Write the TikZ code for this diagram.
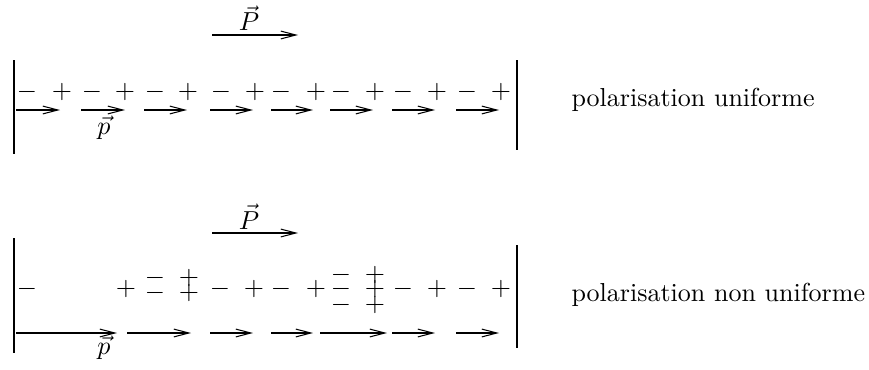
\documentclass[tikz,border=0pt]{standalone}
\usetikzlibrary{arrows.meta}
\begin{document}
\begin{tikzpicture}[x=0.3846pt,y=-0.3846pt,
  charge/.style={inner sep=0pt, text height=0.5em, text depth=0pt},
  dip/.style={line width=0.4pt, -{Straight Barb[length=5.8pt,width=3pt]}},
  wall/.style={line width=1.1pt},
  veclabel/.style={inner sep=0pt},
  caption/.style={inner sep=0pt, anchor=base west}]
\useasboundingbox (0,0) rectangle (869,370);

% ---------- top: uniform polarisation ----------
\coordinate (tlA) at (14,60);  \coordinate (tlB) at (14,154);
\coordinate (trA) at (517,60); \coordinate (trB) at (517,150);
\draw[wall] (tlA) -- (tlB);
\draw[wall] (trA) -- (trB);

\coordinate (tPs) at (212,35); \coordinate (tPe) at (298,35);
\draw[dip] (tPs) -- (tPe);
\node[veclabel, anchor=base] (tP) at (249,31) {$\vec{P}$};

\foreach \x [count=\i] in {27,92,155,221,281,341,403,467}
  \node[charge] (tm\i) at (\x,92) {$-$};
\foreach \x [count=\i] in {62,125,188,255,316,375,437,501}
  \node[charge] (tp\i) at (\x,92) {$+$};

\foreach \a/\b [count=\i] in {16/60,81/125,144/187,210/253,271/313,330/373,392/435,456/499}{
  \coordinate (ta\i) at (\a,110);
  \coordinate (tb\i) at (\b,110);
  \draw[dip] (ta\i) -- (tb\i);
}
\node[veclabel] (tp) at (104,128) {$\vec{p}$};
\node[caption] (tcap) at (571,106) {polarisation uniforme};

% ---------- bottom: non-uniform polarisation ----------
\coordinate (blA) at (14,238);  \coordinate (blB) at (14,353);
\coordinate (brA) at (517,245); \coordinate (brB) at (517,348);
\draw[wall] (blA) -- (blB);
\draw[wall] (brA) -- (brB);

\coordinate (bPs) at (212,233); \coordinate (bPe) at (298,233);
\draw[dip] (bPs) -- (bPe);
\node[veclabel, anchor=base] (bP) at (249,229) {$\vec{P}$};

\foreach \x [count=\i] in {27,220,281,403,467}
  \node[charge] (bm\i) at (\x,289) {$-$};
\foreach \x [count=\i] in {126,254,316,437,501}
  \node[charge] (bp\i) at (\x,289) {$+$};
\node[charge] (bmA1) at (155,278) {$-$};
\node[charge] (bmA2) at (155,293) {$-$};
\node[charge] (bpA1) at (189,278) {$+$};
\node[charge] (bpA2) at (189,293) {$+$};
\node[charge] (bmB1) at (341,275) {$-$};
\node[charge] (bmB2) at (341,289) {$-$};
\node[charge] (bmB3) at (341,305) {$-$};
\node[charge] (bpB1) at (375,275) {$+$};
\node[charge] (bpB2) at (375,289) {$+$};
\node[charge] (bpB3) at (375,305) {$+$};

\foreach \a/\b [count=\i] in {16/117,127/191,210/253,271/313,320/387,392/435,456/499}{
  \coordinate (ba\i) at (\a,333);
  \coordinate (bb\i) at (\b,333);
  \draw[dip] (ba\i) -- (bb\i);
}
\node[veclabel] (bp) at (104,348) {$\vec{p}$};
\node[caption] (bcap) at (571,301) {polarisation non uniforme};
\end{tikzpicture}
\end{document}
